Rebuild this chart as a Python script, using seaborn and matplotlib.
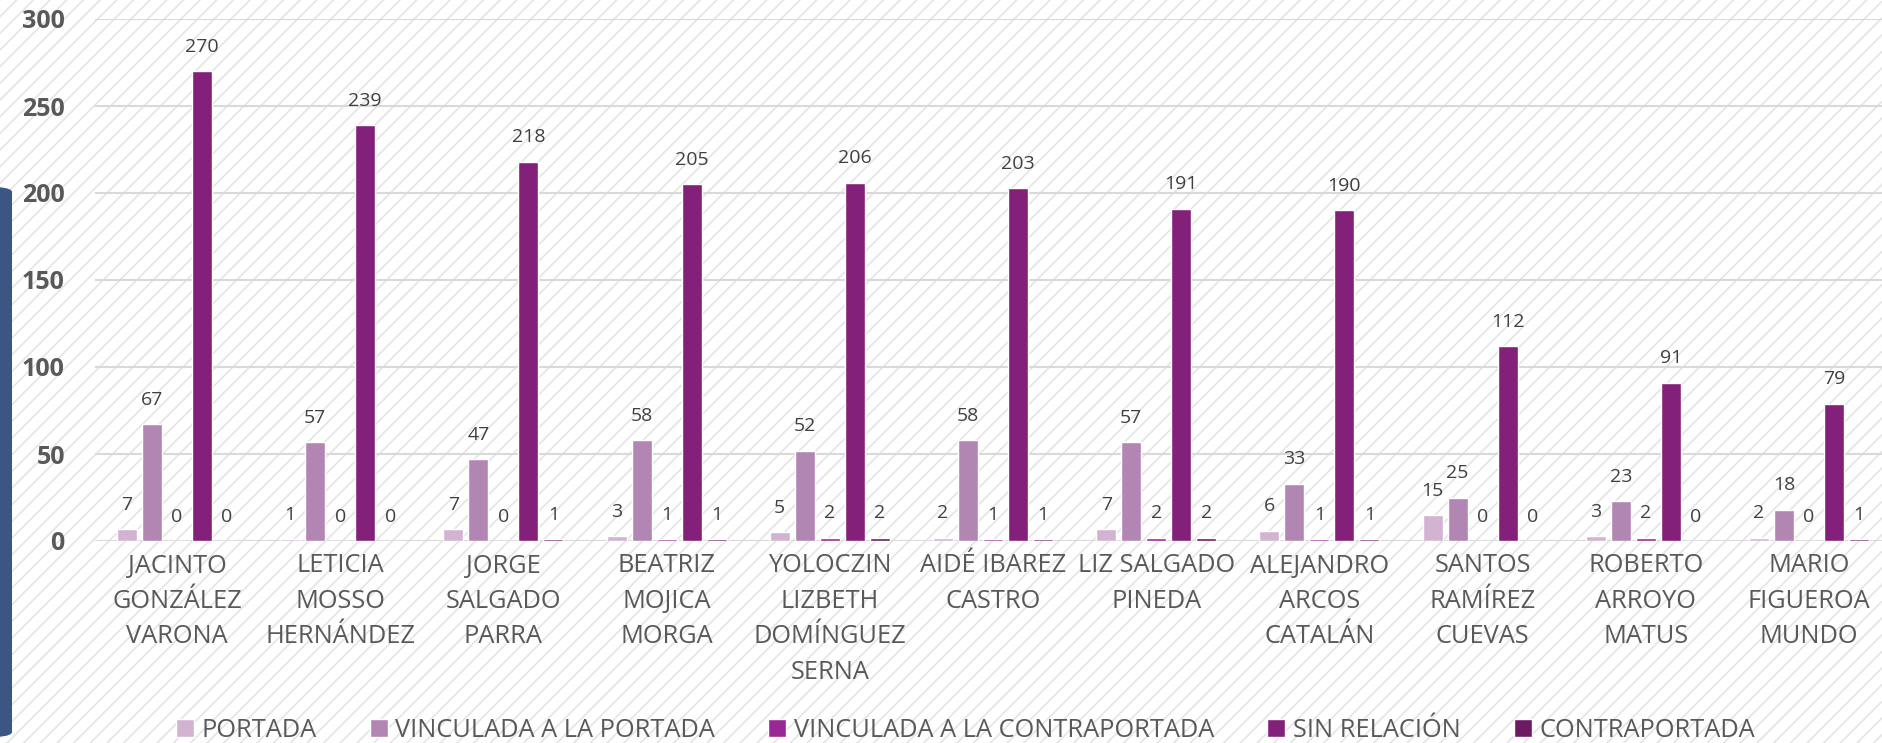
import matplotlib
matplotlib.use("Agg")
import matplotlib.pyplot as plt
import seaborn as sns
import pandas as pd
from matplotlib.patches import Rectangle, FancyBboxPatch

categories = [
    "JACINTO\nGONZÁLEZ\nVARONA",
    "LETICIA\nMOSSO\nHERNÁNDEZ",
    "JORGE\nSALGADO\nPARRA",
    "BEATRIZ\nMOJICA\nMORGA",
    "YOLOCZIN\nLIZBETH\nDOMÍNGUEZ\nSERNA",
    "AIDÉ IBAREZ\nCASTRO",
    "LIZ SALGADO\nPINEDA",
    "ALEJANDRO\nARCOS\nCATALÁN",
    "SANTOS\nRAMÍREZ\nCUEVAS",
    "ROBERTO\nARROYO\nMATUS",
    "MARIO\nFIGUEROA\nMUNDO",
]
series_names = ["PORTADA", "VINCULADA A LA PORTADA", "VINCULADA A LA CONTRAPORTADA",
                "SIN RELACIÓN", "CONTRAPORTADA"]
portada = [7, 1, 7, 3, 5, 2, 7, 6, 15, 3, 2]
vinc_portada = [67, 57, 47, 58, 52, 58, 57, 33, 25, 23, 18]
vinc_contra = [0, 0, 0, 1, 2, 1, 2, 1, 0, 2, 0]
sin_relacion = [270, 239, 218, 205, 206, 203, 191, 190, 112, 91, 79]
contraportada = [0, 0, 1, 1, 2, 1, 2, 1, 0, 0, 1]
yticks = [0, 50, 100, 150, 200, 250, 300]

colors = ["#D2B4D2", "#B286B2", "#9A2894", "#82207A", "#6C1A64"]

rows = []
for name, vals in zip(series_names, [portada, vinc_portada, vinc_contra, sin_relacion, contraportada]):
    for c, v in zip(categories, vals):
        rows.append({"cat": c, "serie": name, "valor": v})
df = pd.DataFrame(rows)

sns.set_theme(style="white")
plt.rcParams["font.family"] = ["Open Sans", "DejaVu Sans"]
plt.rcParams["hatch.linewidth"] = 1.2

W, H = 1882, 743
fig = plt.figure(figsize=(W / 100, H / 100), dpi=100)
fig.patch.set_facecolor("white")

# hatched background
bg = Rectangle((0, 0), 1, 1, transform=fig.transFigure, facecolor="white",
               edgecolor="#e4e4e4", hatch="//", linewidth=0, zorder=-10)
fig.patches.append(bg)

# blue decoration on left edge
deco = FancyBboxPatch((-30 / W, 5 / H), 42 / W, 552 / H, boxstyle="round,pad=0,rounding_size=0.02",
                      transform=fig.transFigure, facecolor="#3B5683", edgecolor="none",
                      mutation_aspect=H / W, zorder=-5)
fig.patches.append(deco)

left = 95.4 / W
bottom = (H - 541) / H
ax = fig.add_axes([left, bottom, 1795.2 / W, 522 / H])
ax.set_facecolor("none")

sns.barplot(data=df, x="cat", y="valor", hue="serie", hue_order=series_names,
            palette=colors, width=0.766, gap=0.2, ax=ax, legend=True,
            saturation=1, zorder=3)

for cont in ax.containers:
    ax.bar_label(cont, padding=11, fontsize=14, color="#404040")

ax.set_ylim(0, 300)
ax.set_xlim(-0.5, len(categories) - 0.5)
ax.set_yticks(yticks)
ax.set_yticklabels([str(t) for t in yticks], fontsize=18, fontweight="bold", color="#595959")
ax.tick_params(axis="y", length=0, pad=22)
ax.tick_params(axis="x", length=0, pad=9, labelsize=18.3, labelcolor="#595959")
for lbl in ax.get_xticklabels():
    lbl.set_linespacing(1.55)
ax.grid(axis="y", color="#d9d9d9", linewidth=1.5, zorder=0)
ax.set_axisbelow(True)
for s in ax.spines.values():
    s.set_visible(False)
ax.set_xlabel("")
ax.set_ylabel("")

handles, labels = ax.get_legend_handles_labels()
ax.get_legend().remove()
fig.legend(handles, labels, loc="lower center", bbox_to_anchor=(0.513, -0.031), ncol=5,
           frameon=False, fontsize=18.3, handlelength=0.7, handleheight=0.7,
           handletextpad=0.3, columnspacing=2.1, labelcolor="#595959")

fig.savefig("out.png", dpi=100)
